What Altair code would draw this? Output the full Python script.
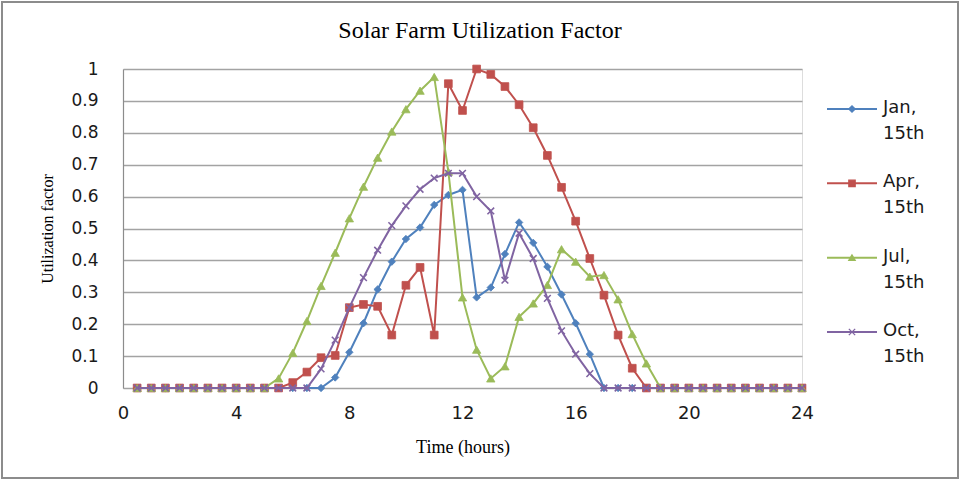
import altair as alt
import pandas as pd

# Time of day (hours), one sample every half hour
hours = [0.5, 1.0, 1.5, 2.0, 2.5, 3.0, 3.5, 4.0, 4.5, 5.0, 5.5, 6.0,
         6.5, 7.0, 7.5, 8.0, 8.5, 9.0, 9.5, 10.0, 10.5, 11.0, 11.5, 12.0,
         12.5, 13.0, 13.5, 14.0, 14.5, 15.0, 15.5, 16.0, 16.5, 17.0, 17.5, 18.0,
         18.5, 19.0, 19.5, 20.0, 20.5, 21.0, 21.5, 22.0, 22.5, 23.0, 23.5, 24.0]

jan = [0, 0, 0, 0, 0, 0, 0, 0, 0, 0, 0, 0, 0, 0,
       0.033, 0.112, 0.203, 0.309, 0.396, 0.467, 0.503, 0.574, 0.605, 0.621,
       0.284, 0.315, 0.42, 0.519, 0.455, 0.38, 0.293, 0.203, 0.106,
       0, 0, 0, 0, 0, 0, 0, 0, 0, 0, 0, 0, 0, 0, 0]

apr = [0, 0, 0, 0, 0, 0, 0, 0, 0, 0, 0,
       0.017, 0.05, 0.095, 0.102, 0.252, 0.262, 0.256, 0.166, 0.322, 0.378,
       0.166, 0.954, 0.87, 1.0, 0.983, 0.945, 0.888, 0.816, 0.729, 0.629,
       0.523, 0.406, 0.291, 0.166, 0.062,
       0, 0, 0, 0, 0, 0, 0, 0, 0, 0, 0, 0]

jul = [0, 0, 0, 0, 0, 0, 0, 0, 0, 0,
       0.03, 0.11, 0.21, 0.32, 0.424, 0.532, 0.631, 0.722, 0.804, 0.874,
       0.932, 0.975, 0.678, 0.284, 0.12, 0.03, 0.068, 0.223, 0.265, 0.323,
       0.435, 0.396, 0.349, 0.354, 0.278, 0.169, 0.077,
       0, 0, 0, 0, 0, 0, 0, 0, 0, 0, 0]

oct_ = [0, 0, 0, 0, 0, 0, 0, 0, 0, 0, 0, 0, 0,
        0.06, 0.15, 0.252, 0.346, 0.432, 0.509, 0.571, 0.623, 0.658, 0.673,
        0.673, 0.6, 0.555, 0.338, 0.485, 0.406, 0.281, 0.179, 0.106, 0.045,
        0, 0, 0, 0, 0, 0, 0, 0, 0, 0, 0, 0, 0, 0, 0]

series_names = ["Jan, 15th", "Apr, 15th", "Jul, 15th", "Oct, 15th"]
series_values = [jan, apr, jul, oct_]
series_colors = ["#4F81BD", "#C0504D", "#9BBB59", "#8064A2"]
x_mark = "M-1,-1L1,1M-1,1L1,-1"
series_shapes = ["diamond", "square", "triangle-up", x_mark]
series_sizes = [55, 60, 70, 45]

chart_title = "Solar Farm Utilization Factor"
x_ticks = [0, 4, 8, 12, 16, 20, 24]
y_ticks = [0, 0.1, 0.2, 0.3, 0.4, 0.5, 0.6, 0.7, 0.8, 0.9, 1.0]

SERIF = "Liberation Serif"
SANS = "DejaVu Sans"

x_enc = alt.X(
    "hour:Q",
    scale=alt.Scale(domain=[0, 24], nice=False),
    axis=alt.Axis(values=x_ticks, title="Time (hours)", grid=False, ticks=False,
                  domain=False, labelFlush=False, labelFont=SANS, labelFontSize=18,
                  labelColor="#1a1a1a", labelPadding=16, titleFont=SERIF,
                  titleFontSize=18, titleFontWeight="normal", titleColor="#000000",
                  titlePadding=16),
)
y_enc = alt.Y(
    "value:Q",
    scale=alt.Scale(domain=[0, 1], nice=False),
    axis=alt.Axis(values=y_ticks, format=".1~f", title="Utilization factor",
                  grid=True, gridColor="#a3a3a3", gridWidth=1.5, ticks=False,
                  domain=True, domainColor="#8c8c8c", domainWidth=1.2,
                  labelFont=SANS, labelFontSize=17, labelColor="#1a1a1a",
                  labelPadding=25, titleFont=SERIF, titleFontSize=16,
                  titleFontWeight="normal", titleColor="#000000", titlePadding=15),
)

layers = []
for name, vals, color, shape, size in zip(series_names, series_values,
                                          series_colors, series_shapes, series_sizes):
    df = pd.DataFrame({"hour": hours, "value": vals, "series": name})
    base = alt.Chart(df).encode(x=x_enc, y=y_enc)
    line = base.mark_line(color=color, strokeWidth=2, clip=False)
    if shape == x_mark:
        pts = base.mark_point(shape=shape, filled=False, stroke=color,
                              strokeWidth=1.6, size=size, opacity=1, clip=False)
    else:
        pts = base.mark_point(shape=shape, filled=True, fill=color, stroke=color,
                              strokeWidth=0.8, size=size, opacity=1, clip=False)
    layers += [line, pts]

plot = alt.layer(*layers)

# Legend panel to the right of the plot: a short line, a marker and a two-line label
legend_df = pd.DataFrame({"series": series_names,
                          "row": list(range(len(series_names))),
                          "label": [n.replace(" ", "\n") for n in series_names]})
leg_y = alt.Y("row:Q", scale=alt.Scale(domain=[0, len(series_names) - 1], range=[40, 263]),
              axis=None)
leg_color = alt.Color("series:N", scale=alt.Scale(domain=series_names, range=series_colors),
                      legend=None)
leg_stroke = alt.Stroke("series:N", scale=alt.Scale(domain=series_names, range=series_colors),
                        legend=None)
leg_base = alt.Chart(legend_df).encode(y=leg_y)
leg_line = leg_base.mark_rule(strokeWidth=2, clip=False).encode(
    x=alt.value(704), x2=alt.value(754), color=leg_color)
leg_pts = leg_base.mark_point(filled=True, size=40, strokeWidth=1.3, opacity=1,
                              clip=False).encode(
    x=alt.value(729), color=leg_color, stroke=leg_stroke,
    shape=alt.Shape("series:N", scale=alt.Scale(domain=series_names, range=series_shapes),
                    legend=None))
leg_text = leg_base.mark_text(align="left", baseline="top", lineBreak="\n", lineHeight=26,
                              font=SANS, fontSize=18, color="#1a1a1a", dy=-10,
                              clip=False).encode(x=alt.value(760), text="label:N")

legend = alt.layer(leg_line, leg_pts, leg_text)

# Chart title, centred over the whole figure
title_df = pd.DataFrame({"title": [chart_title]})
title = alt.Chart(title_df).mark_text(
    font=SERIF, fontSize=24, color="#000000", align="center", baseline="middle",
    clip=False
).encode(x=alt.value(357), y=alt.value(-38), text="title:N")

# Outer frame of the figure
frame = alt.Chart(alt.Data(values=[{}])).mark_rect(
    fill="transparent", stroke="#8c8c8c", strokeWidth=2, clip=False
).encode(x=alt.value(-121), x2=alt.value(835), y=alt.value(-67), y2=alt.value(409))

chart = alt.layer(frame, title, plot, legend).resolve_scale(
    y="independent", color="independent", shape="independent", stroke="independent"
).properties(
    width=679,
    height=319,
    autosize=alt.AutoSizeParams(type="none"),
    padding={"left": 123, "top": 69, "right": 158, "bottom": 92},
).configure_view(strokeWidth=0).configure(background="white")

chart.save("out.html", embed_options={"renderer": "svg", "actions": False})
